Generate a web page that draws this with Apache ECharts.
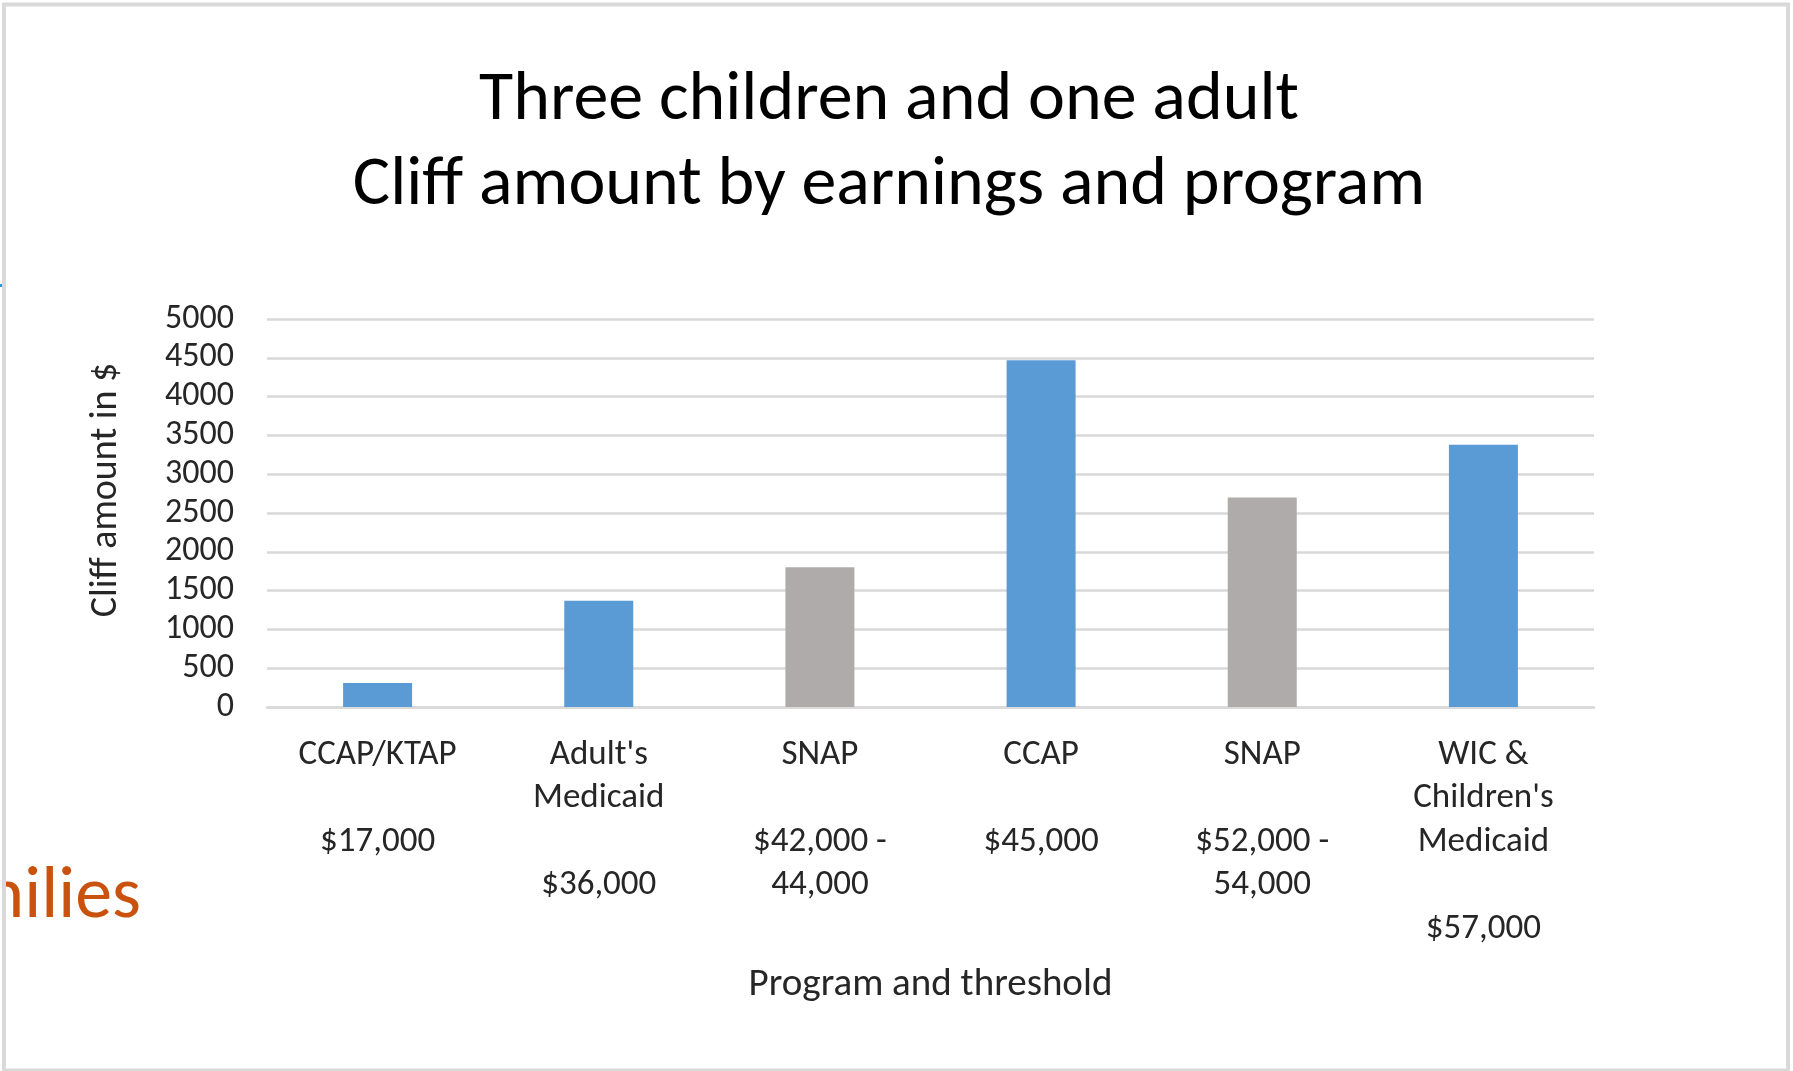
<!DOCTYPE html>
<html>
<head>
<meta charset="utf-8">
<script src="https://cdn.jsdelivr.net/npm/echarts@6/dist/echarts.min.js"></script>
<style>
  html, body { margin: 0; padding: 0; background: #ffffff; }
  #chart { width: 1793px; height: 1071px; }
</style>
</head>
<body>
<div id="chart"></div>
<script>
// ---- data ----
const titleLines = ["Three children and one adult", "Cliff amount by earnings and program"];
const categories = [
  "CCAP/KTAP\n\n$17,000",
  "Adult's\nMedicaid\n\n$36,000",
  "SNAP\n\n$42,000 -\n44,000",
  "CCAP\n\n$45,000",
  "SNAP\n\n$52,000 -\n54,000",
  "WIC &\nChildren's\nMedicaid\n\n$57,000"
];
const programs = ["CCAP/KTAP", "Adult's Medicaid", "SNAP", "CCAP", "SNAP", "WIC & Children's Medicaid"];
const cliffValues = [310, 1370, 1800, 4470, 2700, 3380];
const yAxisName = "Cliff amount in $";
const xAxisName = "Program and threshold";
const yTicks = { min: 0, max: 5000, interval: 500 };

// ---- styles ----
const FONT = "Carlito, Lato, 'Open Sans', sans-serif";
const BLUE = "#5b9bd5";
const GRAY = "#afabab";
const TEXT = "#262626";

const chart = echarts.init(document.getElementById('chart'), null, { renderer: 'canvas' });
chart.setOption({
  backgroundColor: '#ffffff',
  animation: false,
  title: {
    text: titleLines.join('\n'),
    left: 884,
    top: 54,
    textAlign: 'center',
    textStyle: { fontFamily: FONT, fontSize: 70, fontWeight: 'normal', color: '#000000', lineHeight: 85 }
  },
  grid: { left: 267, right: 199, top: 319, bottom: 364, containLabel: false },
  xAxis: {
    type: 'category',
    data: categories,
    name: xAxisName,
    nameLocation: 'middle',
    nameGap: 259,
    nameTextStyle: { fontFamily: FONT, fontSize: 39, color: TEXT },
    axisLine: { show: true, lineStyle: { color: '#d9d9d9', width: 2.5 } },
    axisTick: { show: false },
    axisLabel: {
      interval: 0,
      margin: 26,
      fontFamily: FONT,
      fontSize: 35,
      lineHeight: 43.5,
      color: TEXT,
      align: 'center'
    }
  },
  yAxis: {
    type: 'value',
    min: yTicks.min,
    max: yTicks.max,
    interval: yTicks.interval,
    name: yAxisName,
    nameLocation: 'middle',
    nameGap: 142,
    nameTextStyle: { fontFamily: FONT, fontSize: 38, color: TEXT, padding: [0, 0, 0, 46] },
    axisLine: { show: false },
    axisTick: { show: false },
    axisLabel: { margin: 33, fontFamily: FONT, fontSize: 34, color: TEXT, formatter: function (v) { return String(v); } },
    splitLine: { show: true, lineStyle: { color: '#d9d9d9', width: 2.5 } }
  },
  series: [{
    type: 'bar',
    data: cliffValues,
    barWidth: 69,
    itemStyle: {
      color: function (p) { return programs[p.dataIndex] === 'SNAP' ? GRAY : BLUE; }
    }
  }],
  graphic: [
    {
      type: 'text',
      x: 141, y: 898,
      style: { text: 'Families', fontFamily: FONT, fontSize: 74, fill: '#c9520e', textAlign: 'right', textVerticalAlign: 'middle' },
      z: 1
    },
    {
      type: 'rect',
      shape: { x: 0, y: 0, width: 2, height: 1071 },
      style: { fill: '#ffffff' },
      z: 2
    },
    {
      type: 'rect',
      shape: { x: 0, y: 284, width: 2, height: 3 },
      style: { fill: '#1f9bd7' },
      z: 3
    },
    {
      type: 'rect',
      shape: { x: 4, y: 4.5, width: 1784, height: 1066 },
      style: { fill: 'none', stroke: '#d9d9d9', lineWidth: 4 },
      z: 3
    }
  ]
});
</script>
</body>
</html>
